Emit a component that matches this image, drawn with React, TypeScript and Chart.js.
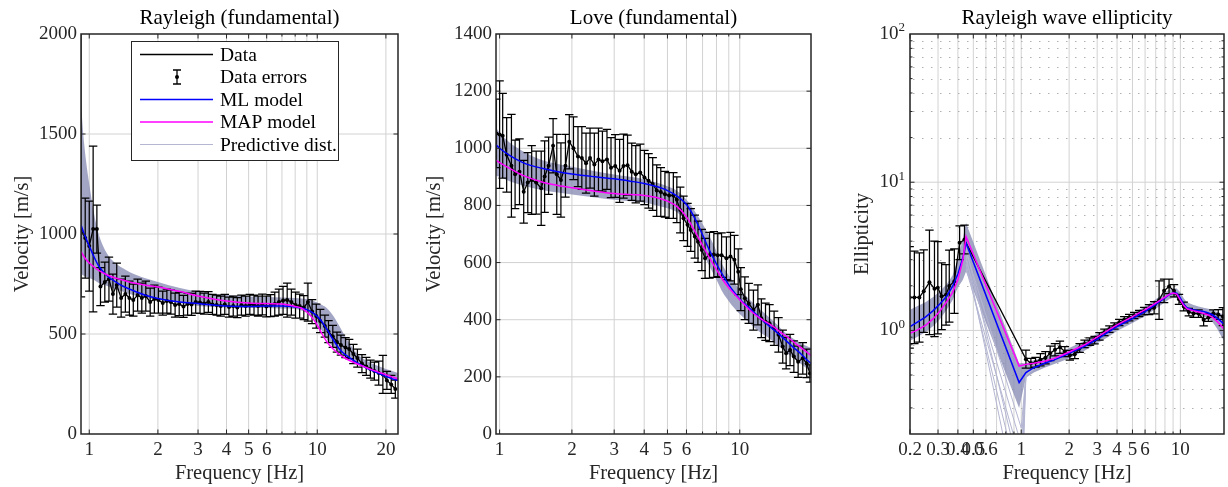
import React, { useEffect, useRef } from 'react';
import { Chart, registerables } from 'chart.js';

Chart.register(...registerables);

const FONT = "'Liberation Serif', 'Times New Roman', Times, serif";
const H = 487;
const PLOT_TOP = 34;
const PLOT_BOTTOM = 434;

const xLabel = 'Frequency [Hz]';
const legendLabels = ['Data', 'Data errors', 'ML model', 'MAP model', 'Predictive dist.'];

const COLORS = {
  data: '#000000',
  ml: '#0000ff',
  map: '#ff00ff',
  band: 'rgba(140,143,183,0.8)',
  bandLine: '#b4b6d2',
  axis: '#262626',
  grid: '#d2d2d2',
  minor: '#b0b0b0',
};

// ---------------- Rayleigh (fundamental) ----------------
const rayTitle = 'Rayleigh (fundamental)';
const rayYLabel = 'Velocity [m/s]';
const rayFreq = [0.92, 0.96, 1.0, 1.04, 1.08, 1.12, 1.17, 1.22, 1.27, 1.32, 1.38, 1.44, 1.5, 1.56, 1.63, 1.7, 1.77, 1.85, 1.93, 2.01, 2.1, 2.19, 2.28, 2.38, 2.48, 2.59, 2.7, 2.81, 2.93, 3.06, 3.19, 3.33, 3.47, 3.62, 3.77, 3.93, 4.1, 4.28, 4.46, 4.65, 4.85, 5.06, 5.28, 5.5, 5.74, 5.98, 6.24, 6.51, 6.79, 7.08, 7.38, 7.7, 8.03, 8.37, 8.73, 9.1, 9.49, 9.9, 10.3, 10.8, 11.2, 11.7, 12.2, 12.7, 13.3, 13.8, 14.4, 15.0, 15.7, 16.4, 17.1, 17.8, 18.6, 19.4, 20.2, 21.1, 22.0];
const rayVel = [1020, 980, 940, 1025, 1025, 737, 760, 775, 700, 745, 680, 700, 680, 670, 695, 680, 690, 660, 675, 670, 655, 665, 660, 645, 650, 638, 650, 648, 660, 658, 652, 660, 648, 645, 640, 648, 635, 640, 632, 645, 640, 648, 645, 640, 648, 638, 642, 650, 660, 668, 670, 660, 645, 640, 632, 660, 612, 590, 565, 540, 512, 488, 460, 445, 432, 425, 400, 380, 352, 338, 325, 315, 305, 298, 268, 248, 225];
const rayErr: (number | number[])[] = [[334, 1000], 200, 225, 414, 120, 95, 100, 110, 100, 110, 95, 90, 85, 80, 80, 75, 75, 70, 70, 65, 60, 60, 60, 60, 58, 55, 55, 55, 55, 55, 52, 52, 50, 50, 50, 50, 50, 50, 50, 50, 50, 50, 50, 50, 52, 52, 55, 60, 65, 70, 85, 65, 65, 60, 60, 95, 60, 60, 58, 55, 55, 55, 50, 50, 50, 48, 48, 45, 45, 45, 45, 45, 60, 95, 45, 45, 45];
const rayModelFreq = [0.92, 0.95, 1.0, 1.05, 1.1, 1.2, 1.3, 1.4, 1.5, 1.75, 2, 2.5, 3, 3.5, 4, 5, 6, 7, 8, 8.5, 9, 9.5, 10, 10.5, 11, 11.5, 12, 12.5, 13, 14, 15, 16, 17, 18, 19, 20, 21, 22.6];
const rayMl = [1045, 1000, 940, 885, 840, 790, 762, 740, 725, 695, 678, 660, 652, 645, 640, 638, 640, 640, 635, 630, 622, 608, 588, 560, 525, 488, 455, 425, 405, 378, 355, 337, 322, 310, 298, 288, 279, 268];
const rayMap = [912, 885, 855, 835, 818, 795, 780, 770, 760, 745, 735, 712, 690, 675, 665, 655, 652, 650, 638, 630, 610, 582, 545, 500, 462, 435, 415, 398, 385, 365, 350, 337, 325, 315, 305, 297, 288, 276];
const rayBandLo = [800, 790, 780, 770, 755, 740, 725, 712, 700, 682, 670, 655, 640, 635, 632, 630, 630, 628, 625, 618, 605, 585, 555, 515, 475, 445, 425, 405, 392, 370, 352, 337, 325, 313, 302, 292, 282, 270];
const rayBandHi = [1650, 1450, 1250, 1100, 1000, 900, 855, 830, 810, 780, 760, 730, 712, 700, 695, 688, 685, 682, 680, 678, 675, 668, 658, 645, 630, 605, 575, 540, 505, 445, 400, 375, 358, 345, 335, 325, 317, 305];
const rayXTicks = [1, 2, 3, 4, 5, 6, 10, 20];
const rayXGrid = [1, 2, 3, 4, 5, 6, 7, 8, 9, 10, 20];
const rayYTicks = [0, 500, 1000, 1500, 2000];
const rayYGrid = [500, 1000, 1500];

// ---------------- Love (fundamental) ----------------
const loveTitle = 'Love (fundamental)';
const loveYLabel = 'Velocity [m/s]';
const loveFreq = [0.97, 1.0, 1.03, 1.07, 1.12, 1.16, 1.21, 1.26, 1.31, 1.36, 1.42, 1.49, 1.54, 1.6, 1.67, 1.73, 1.8, 1.88, 1.95, 2.03, 2.12, 2.2, 2.29, 2.38, 2.48, 2.58, 2.68, 2.8, 2.91, 3.03, 3.16, 3.28, 3.41, 3.55, 3.69, 3.85, 4.01, 4.17, 4.34, 4.51, 4.69, 4.88, 5.08, 5.29, 5.47, 5.65, 5.83, 6.06, 6.25, 6.5, 6.7, 6.95, 7.17, 7.48, 7.8, 8.1, 8.4, 8.8, 9.15, 9.5, 9.85, 10.1, 10.5, 10.9, 11.4, 11.9, 12.3, 12.8, 13.3, 13.9, 14.5, 15.1, 15.6, 16.2, 16.8, 17.5, 18.3, 19.0, 19.6];
const loveVel = [1052, 1048, 1044, 977, 939, 909, 918, 848, 880, 889, 880, 860, 901, 939, 1009, 909, 889, 939, 1023, 1000, 971, 966, 948, 966, 943, 961, 955, 961, 932, 938, 921, 938, 941, 918, 909, 915, 898, 886, 875, 852, 847, 839, 835, 835, 820, 784, 755, 732, 714, 691, 673, 644, 615, 626, 628, 626, 626, 615, 621, 610, 568, 507, 475, 457, 434, 452, 405, 393, 388, 370, 347, 306, 283, 294, 271, 253, 265, 247, 212];
const loveErr = [120, 188, 148, 130, 180, 120, 115, 110, 105, 120, 110, 130, 125, 100, 95, 140, 130, 110, 95, 110, 105, 110, 105, 105, 110, 110, 105, 105, 105, 110, 110, 112, 105, 100, 100, 100, 95, 95, 92, 90, 85, 80, 80, 80, 80, 80, 78, 75, 75, 75, 72, 72, 70, 80, 80, 75, 78, 75, 85, 85, 80, 75, 75, 70, 70, 70, 68, 65, 65, 60, 60, 58, 55, 55, 55, 55, 55, 50, 30];
const loveModelFreq = [0.96, 1.0, 1.1, 1.25, 1.5, 1.75, 2, 2.5, 3, 3.5, 4, 4.5, 5, 5.5, 6, 6.5, 7, 7.5, 8, 8.5, 9, 9.5, 10, 11, 12, 13, 14, 15, 16, 17, 18, 19, 20];
const loveMl = [1014, 1000, 975, 950, 930, 918, 910, 900, 893, 885, 877, 866, 852, 832, 803, 755, 697, 641, 595, 556, 522, 495, 472, 440, 410, 384, 362, 340, 318, 298, 280, 260, 244];
const loveMap = [959, 950, 930, 905, 882, 870, 862, 850, 842, 838, 835, 828, 815, 795, 760, 710, 660, 615, 575, 540, 512, 490, 470, 434, 408, 390, 372, 352, 336, 318, 302, 287, 272];
const loveBandLo = [905, 900, 885, 870, 854, 845, 838, 828, 820, 815, 810, 800, 790, 775, 740, 690, 635, 585, 540, 495, 465, 440, 420, 388, 360, 340, 318, 298, 278, 262, 245, 230, 220];
const loveBandHi = [1075, 1055, 1020, 990, 959, 945, 935, 920, 908, 900, 892, 880, 867, 850, 820, 780, 735, 690, 640, 590, 555, 530, 505, 470, 440, 415, 390, 365, 345, 330, 318, 308, 300];
const loveXTicks = [1, 2, 3, 4, 5, 6, 10];
const loveXGrid = [1, 2, 3, 4, 5, 6, 7, 8, 9, 10];
const loveYTicks = [0, 200, 400, 600, 800, 1000, 1200, 1400];
const loveYGrid = [200, 400, 600, 800, 1000, 1200];

// ---------------- Rayleigh wave ellipticity ----------------
const ellTitle = 'Rayleigh wave ellipticity';
const ellYLabel = 'Ellipticity';
const ellFreq = [0.199, 0.213, 0.229, 0.244, 0.265, 0.285, 0.299, 0.316, 0.337, 0.353, 0.38, 0.41, 0.44, 1.07, 1.15, 1.23, 1.32, 1.42, 1.52, 1.63, 1.75, 1.88, 2.02, 2.17, 2.33, 2.5, 2.69, 2.89, 3.1, 3.33, 3.58, 3.85, 4.13, 4.44, 4.77, 5.13, 5.51, 5.92, 6.36, 6.84, 7.35, 7.9, 8.49, 9.12, 9.8, 10.5, 11.3, 12.1, 13.0, 14.0, 15.0, 16.1, 17.3, 18.5];
const ellVal = [1.67, 1.67, 1.67, 1.84, 2.11, 1.91, 1.94, 1.70, 1.74, 1.99, 2.15, 3.9, 4.1, 0.64, 0.60, 0.61, 0.635, 0.655, 0.70, 0.74, 0.77, 0.72, 0.68, 0.69, 0.76, 0.81, 0.84, 0.86, 0.91, 0.97, 1.02, 1.07, 1.13, 1.18, 1.22, 1.26, 1.30, 1.35, 1.38, 1.42, 1.60, 1.85, 1.98, 1.85, 1.62, 1.45, 1.33, 1.30, 1.30, 1.18, 1.22, 1.30, 1.28, 1.24];
// multiplicative error factors
const ellErr = [2.2, 2.05, 2.0, 1.9, 2.25, 2.1, 2.05, 1.68, 1.6, 1.75, 1.65, 1.3, 1.25, 1.15, 1.08, 1.08, 1.1, 1.1, 1.12, 1.1, 1.1, 1.08, 1.08, 1.07, 1.07, 1.06, 1.06, 1.06, 1.06, 1.05, 1.05, 1.05, 1.05, 1.05, 1.05, 1.05, 1.05, 1.06, 1.08, 1.1, 1.35, 1.2, 1.12, 1.1, 1.08, 1.07, 1.06, 1.06, 1.06, 1.1, 1.06, 1.06, 1.08, 1.15];
const ellModelFreq = [0.2, 0.22, 0.25, 0.28, 0.31, 0.34, 0.37, 0.4, 0.43, 0.45, 0.97, 1.07, 1.2, 1.4, 1.6, 1.8, 2.0, 2.5, 3, 3.5, 4, 5, 6, 7, 8, 8.5, 9, 9.5, 10, 10.5, 11, 12, 13, 14, 15, 16, 17, 18, 18.8];
const ellMl = [1.06, 1.13, 1.23, 1.36, 1.52, 1.70, 1.98, 2.4, 3.1, 3.89, 0.445, 0.52, 0.56, 0.6, 0.63, 0.665, 0.70, 0.78, 0.87, 0.97, 1.06, 1.2, 1.34, 1.5, 1.66, 1.74, 1.79, 1.78, 1.65, 1.5, 1.42, 1.38, 1.36, 1.34, 1.31, 1.27, 1.21, 1.15, 1.1];
const ellMap = [0.955, 1.0, 1.08, 1.2, 1.36, 1.56, 1.8, 2.2, 3.0, 4.3, 0.575, 0.59, 0.6, 0.62, 0.645, 0.68, 0.715, 0.8, 0.9, 1.0, 1.09, 1.24, 1.38, 1.53, 1.68, 1.75, 1.79, 1.76, 1.6, 1.47, 1.4, 1.36, 1.33, 1.3, 1.27, 1.22, 1.15, 1.08, 1.02];
const ellBandLo = [0.85, 0.9, 0.97, 1.07, 1.2, 1.38, 1.6, 1.95, 2.2, 2.5, 0.3, 0.48, 0.52, 0.56, 0.59, 0.62, 0.65, 0.73, 0.82, 0.9, 0.99, 1.12, 1.25, 1.4, 1.55, 1.62, 1.66, 1.65, 1.52, 1.4, 1.33, 1.3, 1.27, 1.24, 1.2, 1.13, 1.03, 0.92, 0.85];
const ellBandHi = [1.38, 1.45, 1.55, 1.68, 1.85, 2.05, 2.35, 3.0, 4.2, 5.3, 0.6, 0.6, 0.63, 0.66, 0.69, 0.72, 0.76, 0.85, 0.95, 1.05, 1.14, 1.3, 1.45, 1.62, 1.8, 1.88, 1.92, 1.92, 1.8, 1.65, 1.55, 1.49, 1.45, 1.42, 1.4, 1.37, 1.33, 1.3, 1.27];
const ellSprayFreq = [0.45, 1.0, 1.07, 1.2];
const ellSpray1 = [3.2, 0.05, 0.5, 0.55];
const ellSpray2 = [2.8, 0.08, 0.5, 0.55];
const ellSpray3 = [3.6, 0.1, 0.52, 0.56];
const ellSpray4 = [2.6, 0.13, 0.5, 0.55];
const ellSpray5 = [3.0, 0.17, 0.5, 0.55];
const ellSpray6 = [3.4, 0.22, 0.5, 0.56];
const ellXTicks = [0.2, 0.3, 0.4, 0.5, 0.6, 1, 2, 3, 4, 5, 6, 10];
const ellXGrid = [0.2, 0.3, 0.4, 0.5, 0.6, 0.7, 0.8, 0.9, 1, 2, 3, 4, 5, 6, 7, 8, 9, 10];
const ellYTickVals = [1, 10, 100];
const ellYTickExp = ['0', '1', '2'];
const ellYGrid = [1, 10];
const ellYMinor = [0.3, 0.4, 0.5, 0.6, 0.7, 0.8, 0.9, 2, 3, 4, 5, 6, 7, 8, 9, 20, 30, 40, 50, 60, 70, 80, 90];

type Panel = {
  title: string; yLabel: string;
  f: number[]; v: number[]; err: any[]; errMode: 'abs' | 'factor';
  modelF: number[]; ml: number[]; map: number[]; lo: number[]; hi: number[];
  sprayF: number[]; spray: number[][];
  xMin: number; xMax: number; yMin: number; yMax: number; yLog: boolean;
  xTicks: number[]; xGrid: number[]; yTicks: number[]; yGrid: number[]; yMinor: number[];
  canvasLeft: number; width: number; plotLeft: number; plotRight: number; yTitleX: number;
  legend: boolean; smooth: boolean;
};

const panels: Panel[] = [
  {
    title: rayTitle, yLabel: rayYLabel, f: rayFreq, v: rayVel, err: rayErr, errMode: 'abs',
    modelF: rayModelFreq, ml: rayMl, map: rayMap, lo: rayBandLo, hi: rayBandHi, sprayF: [], spray: [],
    xMin: 0.92, xMax: 22.6, yMin: 0, yMax: 2000, yLog: false,
    xTicks: rayXTicks, xGrid: rayXGrid, yTicks: rayYTicks, yGrid: rayYGrid, yMinor: [],
    canvasLeft: 0, width: 410, plotLeft: 81, plotRight: 398, yTitleX: 23, legend: true, smooth: true,
  },
  {
    title: loveTitle, yLabel: loveYLabel, f: loveFreq, v: loveVel, err: loveErr, errMode: 'abs',
    modelF: loveModelFreq, ml: loveMl, map: loveMap, lo: loveBandLo, hi: loveBandHi, sprayF: [], spray: [],
    xMin: 0.966, xMax: 19.8, yMin: 0, yMax: 1400, yLog: false,
    xTicks: loveXTicks, xGrid: loveXGrid, yTicks: loveYTicks, yGrid: loveYGrid, yMinor: [],
    canvasLeft: 410, width: 410, plotLeft: 86, plotRight: 401, yTitleX: 25, legend: false, smooth: true,
  },
  {
    title: ellTitle, yLabel: ellYLabel, f: ellFreq, v: ellVal, err: ellErr, errMode: 'factor',
    modelF: ellModelFreq, ml: ellMl, map: ellMap, lo: ellBandLo, hi: ellBandHi,
    sprayF: ellSprayFreq, spray: [ellSpray1, ellSpray2, ellSpray3, ellSpray4, ellSpray5, ellSpray6],
    xMin: 0.2, xMax: 18.8, yMin: 0.2, yMax: 100, yLog: true,
    xTicks: ellXTicks, xGrid: ellXGrid, yTicks: ellYTickVals, yGrid: ellYGrid, yMinor: ellYMinor,
    canvasLeft: 820, width: 408, plotLeft: 90, plotRight: 406, yTitleX: 43, legend: false, smooth: false,
  },
];

function pts(fs: number[], vs: number[]) {
  return fs.map((f, i) => ({ x: f, y: vs[i] }));
}

function drawLegend(ctx: CanvasRenderingContext2D) {
  const bx = 131, by = 41, bw = 207, bh = 119;
  ctx.save();
  ctx.fillStyle = '#ffffff';
  ctx.fillRect(bx, by, bw, bh);
  ctx.strokeStyle = COLORS.axis;
  ctx.lineWidth = 1;
  ctx.strokeRect(bx + 0.5, by + 0.5, bw, bh);
  const lineColors = [COLORS.data, '', COLORS.ml, COLORS.map, COLORS.bandLine];
  ctx.font = `19.5px ${FONT}`;
  ctx.textAlign = 'left';
  ctx.textBaseline = 'middle';
  legendLabels.forEach((lab, i) => {
    const y = 54.5 + i * 22.5;
    if (i === 1) {
      const cx = 177;
      ctx.strokeStyle = '#000';
      ctx.lineWidth = 1.3;
      ctx.beginPath();
      ctx.moveTo(cx, y - 7); ctx.lineTo(cx, y + 7);
      ctx.moveTo(cx - 4, y - 7); ctx.lineTo(cx + 4, y - 7);
      ctx.moveTo(cx - 4, y + 7); ctx.lineTo(cx + 4, y + 7);
      ctx.stroke();
      ctx.fillStyle = '#000';
      ctx.beginPath();
      ctx.arc(cx, y, 2, 0, Math.PI * 2);
      ctx.fill();
    } else {
      ctx.strokeStyle = lineColors[i];
      ctx.lineWidth = i === 4 ? 1.2 : 1.5;
      ctx.beginPath();
      ctx.moveTo(140, y); ctx.lineTo(213, y);
      ctx.stroke();
    }
    ctx.fillStyle = '#000';
    ctx.fillText(lab, 220, y + 1);
  });
  ctx.restore();
}

function makePlugin(p: Panel) {
  return {
    id: 'matlabAxes',
    beforeDatasetsDraw(chart: any) {
      const { ctx, chartArea: a } = chart;
      const xs = chart.scales.x, ys = chart.scales.y;
      ctx.save();
      ctx.lineWidth = 1;
      ctx.strokeStyle = COLORS.grid;
      ctx.beginPath();
      for (const v of p.xGrid) {
        const px = xs.getPixelForValue(v);
        ctx.moveTo(px, a.top); ctx.lineTo(px, a.bottom);
      }
      for (const v of p.yGrid) {
        const py = ys.getPixelForValue(v);
        ctx.moveTo(a.left, py); ctx.lineTo(a.right, py);
      }
      ctx.stroke();
      if (p.yMinor.length) {
        ctx.setLineDash([1.5, 7.5]);
        ctx.strokeStyle = COLORS.minor;
        ctx.beginPath();
        for (const v of p.yMinor) {
          const py = Math.round(ys.getPixelForValue(v)) + 0.5;
          ctx.moveTo(a.left + 3, py); ctx.lineTo(a.right, py);
        }
        ctx.stroke();
      }
      ctx.restore();
    },
    afterDatasetDraw(chart: any, args: any) {
      if (args.index !== 0) return;
      const { ctx, chartArea: a } = chart;
      const xs = chart.scales.x, ys = chart.scales.y;
      ctx.save();
      ctx.beginPath();
      ctx.rect(a.left, a.top, a.right - a.left, a.bottom - a.top);
      ctx.clip();
      ctx.strokeStyle = '#000';
      ctx.lineWidth = 1.25;
      ctx.beginPath();
      p.f.forEach((f, i) => {
        const v = p.v[i];
        const e = p.err[i];
        let lo: number, hi: number;
        if (p.errMode === 'factor') { lo = v / e; hi = v * e; }
        else if (Array.isArray(e)) { lo = v - e[0]; hi = v + e[1]; }
        else { lo = v - e; hi = v + e; }
        const px = xs.getPixelForValue(f);
        const p1 = ys.getPixelForValue(lo);
        const p2 = ys.getPixelForValue(hi);
        ctx.moveTo(px, p1); ctx.lineTo(px, p2);
        ctx.moveTo(px - 4.2, p1); ctx.lineTo(px + 4.2, p1);
        ctx.moveTo(px - 4.2, p2); ctx.lineTo(px + 4.2, p2);
      });
      ctx.stroke();
      ctx.restore();
    },
    afterDraw(chart: any) {
      const { ctx, chartArea: a } = chart;
      const xs = chart.scales.x, ys = chart.scales.y;
      ctx.save();
      // inner tick marks
      ctx.strokeStyle = COLORS.axis;
      ctx.lineWidth = 1;
      ctx.beginPath();
      for (const v of p.xGrid) {
        const px = xs.getPixelForValue(v);
        const len = p.xTicks.includes(v) ? 4.5 : 2.5;
        ctx.moveTo(px, a.bottom); ctx.lineTo(px, a.bottom - len);
        ctx.moveTo(px, a.top); ctx.lineTo(px, a.top + len);
      }
      const yt: number[][] = [...p.yGrid.map((v) => [v, 4.5]), ...p.yMinor.map((v) => [v, 2.5])];
      for (const [v, len] of yt) {
        const py = ys.getPixelForValue(v);
        ctx.moveTo(a.left, py); ctx.lineTo(a.left + len, py);
        ctx.moveTo(a.right, py); ctx.lineTo(a.right - len, py);
      }
      ctx.stroke();
      // box
      ctx.lineWidth = 1.5;
      ctx.strokeRect(a.left, a.top, a.right - a.left, a.bottom - a.top);
      // titles
      const cx = (a.left + a.right) / 2;
      ctx.fillStyle = '#000';
      ctx.font = `21px ${FONT}`;
      ctx.textAlign = 'center';
      ctx.textBaseline = 'alphabetic';
      ctx.fillText(p.title, cx, 24);
      ctx.fillStyle = COLORS.axis;
      ctx.font = `20.5px ${FONT}`;
      ctx.fillText(xLabel, cx, 479);
      ctx.save();
      ctx.translate(p.yTitleX, (a.top + a.bottom) / 2);
      ctx.rotate(-Math.PI / 2);
      ctx.textBaseline = 'middle';
      ctx.fillText(p.yLabel, 0, 0);
      ctx.restore();
      // log y tick labels (10^n)
      if (p.yLog) {
        ctx.fillStyle = COLORS.axis;
        ellYTickVals.forEach((val, i) => {
          const py = ys.getPixelForValue(val);
          const expX = a.left - 5;
          ctx.font = `13px ${FONT}`;
          ctx.textAlign = 'right';
          ctx.textBaseline = 'middle';
          const ew = ctx.measureText(ellYTickExp[i]).width;
          ctx.fillText(ellYTickExp[i], expX, py - 6);
          ctx.font = `19px ${FONT}`;
          ctx.fillText('10', expX - ew, py);
        });
      }
      if (p.legend) drawLegend(ctx);
      ctx.restore();
    },
  };
}

function buildConfig(p: Panel): any {
  const interp = p.smooth ? 'monotone' : 'default';
  const datasets: any[] = [
    {
      label: legendLabels[0], data: pts(p.f, p.v), borderColor: COLORS.data, backgroundColor: COLORS.data,
      borderWidth: 1.3, pointRadius: 2, pointBorderWidth: 0, pointBackgroundColor: COLORS.data,
      tension: 0, fill: false, order: 3,
    },
    {
      label: legendLabels[2], data: pts(p.modelF, p.ml), borderColor: COLORS.ml, borderWidth: 1.5,
      pointRadius: 0, cubicInterpolationMode: interp, tension: 0, fill: false, order: 2,
    },
    {
      label: legendLabels[3], data: pts(p.modelF, p.map), borderColor: COLORS.map, borderWidth: 1.5,
      pointRadius: 0, cubicInterpolationMode: interp, tension: 0, fill: false, order: 1,
    },
    {
      label: 'band lower', data: pts(p.modelF, p.lo), borderColor: 'rgba(0,0,0,0)', borderWidth: 0,
      pointRadius: 0, cubicInterpolationMode: interp, tension: 0, fill: false, order: 10,
    },
    {
      label: legendLabels[4], data: pts(p.modelF, p.hi), borderColor: 'rgba(0,0,0,0)', borderWidth: 0,
      pointRadius: 0, cubicInterpolationMode: interp, tension: 0, fill: '-1', backgroundColor: COLORS.band, order: 10,
    },
  ];
  p.spray.forEach((line) => {
    datasets.push({
      label: 'predictive sample', data: pts(p.sprayF, line), borderColor: COLORS.bandLine, borderWidth: 1,
      pointRadius: 0, tension: 0, fill: false, order: 9,
    });
  });

  const tickFont = { family: FONT, size: 19 };
  return {
    type: 'line',
    data: { datasets },
    options: {
      responsive: false,
      animation: false,
      events: [],
      layout: { padding: { top: PLOT_TOP, right: p.width - p.plotRight, left: 0, bottom: 0 } },
      plugins: { legend: { display: false }, tooltip: { enabled: false }, title: { display: false } },
      scales: {
        x: {
          type: 'logarithmic', min: p.xMin, max: p.xMax,
          afterFit: (s: any) => { s.height = H - PLOT_BOTTOM; },
          afterBuildTicks: (s: any) => { s.ticks = p.xTicks.map((v) => ({ value: v })); },
          grid: { display: false, drawTicks: false },
          border: { display: false },
          ticks: {
            autoSkip: false, maxRotation: 0, minRotation: 0, padding: 5, color: COLORS.axis, font: tickFont,
            callback: (v: any) => String(v),
          },
        },
        y: {
          type: p.yLog ? 'logarithmic' : 'linear', min: p.yMin, max: p.yMax,
          afterFit: (s: any) => { s.width = p.plotLeft; },
          afterBuildTicks: (s: any) => { s.ticks = p.yTicks.map((v) => ({ value: v })); },
          grid: { display: false, drawTicks: false },
          border: { display: false },
          ticks: {
            display: !p.yLog, autoSkip: false, padding: 4, color: COLORS.axis, font: tickFont,
            callback: (v: any) => String(v),
          },
        },
      },
    },
    plugins: [makePlugin(p)],
  };
}

function PanelChart({ p }: { p: Panel }) {
  const ref = useRef<HTMLCanvasElement | null>(null);
  useEffect(() => {
    if (!ref.current) return;
    const chart = new Chart(ref.current, buildConfig(p));
    return () => chart.destroy();
  }, [p]);
  return (
    <canvas
      ref={ref}
      width={p.width}
      height={H}
      style={{ position: 'absolute', left: p.canvasLeft, top: 0, width: p.width, height: H }}
    />
  );
}

export default function App() {
  return (
    <div style={{ position: 'absolute', left: 0, top: 0, width: 1228, height: H, background: '#ffffff', overflow: 'hidden' }}>
      {panels.map((p, i) => (
        <PanelChart key={i} p={p} />
      ))}
    </div>
  );
}
